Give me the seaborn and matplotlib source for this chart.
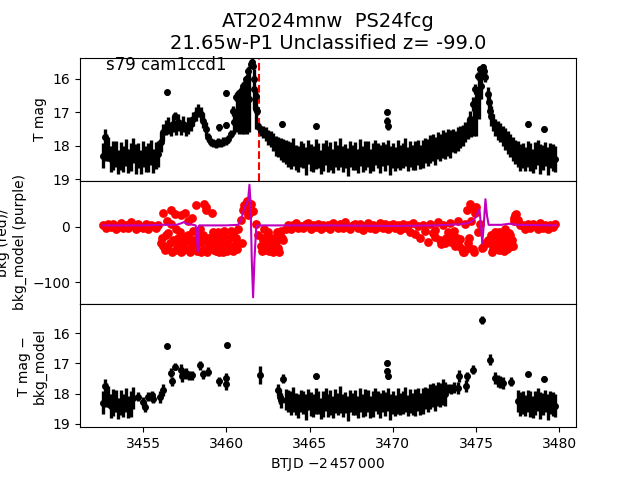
import pandas as pd
import seaborn as sns
import matplotlib
matplotlib.use('Agg')
import matplotlib.pyplot as plt

# T mag light curve (BTJD - 2457000), regular cadence part
top_t = [
    3452.60, 3452.75, 3452.90, 3453.05, 3453.20, 3453.35, 3453.50, 3453.65, 3453.80, 3453.95,
    3454.10, 3454.25, 3454.40, 3454.55, 3454.70, 3454.85, 3455.00, 3455.15, 3455.30, 3455.45,
    3455.60, 3455.75, 3455.90, 3456.05, 3456.20, 3456.35, 3456.50, 3456.65, 3456.80, 3456.95,
    3457.10, 3457.25, 3457.40, 3457.55, 3457.70, 3457.85, 3458.00, 3458.15, 3458.30, 3458.45,
    3458.60, 3458.75, 3458.90, 3459.05, 3459.20, 3459.35, 3459.50, 3459.65, 3459.80, 3459.95,
    3460.10, 3460.25, 3460.40, 3460.55, 3460.70, 3460.85, 3461.00, 3461.15, 3461.30, 3461.45,
    3461.60, 3461.75, 3461.90, 3462.05, 3462.20, 3462.35, 3462.50, 3462.65, 3462.80, 3462.95,
    3463.10, 3463.25, 3463.40, 3463.55, 3463.70, 3463.85, 3464.00, 3464.15, 3464.30, 3464.45,
    3464.60, 3464.75, 3464.90, 3465.05, 3465.20, 3465.35, 3465.50, 3465.65, 3465.80, 3465.95,
    3466.10, 3466.25, 3466.40, 3466.55, 3466.70, 3466.85, 3467.00, 3467.15, 3467.30, 3467.45,
    3467.60, 3467.75, 3467.90, 3468.05, 3468.20, 3468.35, 3468.50, 3468.65, 3468.80, 3468.95,
    3469.10, 3469.25, 3469.40, 3469.55, 3469.70, 3469.85, 3470.00, 3470.15, 3470.30, 3470.45,
    3470.60, 3470.75, 3470.90, 3471.05, 3471.20, 3471.35, 3471.50, 3471.65, 3471.80, 3471.95,
    3472.10, 3472.25, 3472.40, 3472.55, 3472.70, 3472.85, 3473.00, 3473.15, 3473.30, 3473.45,
    3473.60, 3473.75, 3473.90, 3474.05, 3474.20, 3474.35, 3474.50, 3474.65, 3474.80, 3474.95,
    3475.10, 3475.25, 3475.40, 3475.55, 3475.70, 3475.85, 3476.00, 3476.15, 3476.30, 3476.45,
    3476.60, 3476.75, 3476.90, 3477.05, 3477.20, 3477.35, 3477.50, 3477.65, 3477.80, 3477.95,
    3478.10, 3478.25, 3478.40, 3478.55, 3478.70, 3478.85, 3479.00, 3479.15, 3479.30, 3479.45,
    3479.60, 3479.75]
top_mag = [
    18.30, 18.05, 18.10, 18.40, 18.30, 18.25, 18.50, 18.30, 18.40, 18.20,
    18.45, 18.35, 18.15, 18.40, 18.30, 18.50, 18.25, 18.40, 18.35, 18.20,
    18.45, 18.30, 18.25, 17.90, 17.60, 17.45, 17.40, 17.50, 17.35, 17.45,
    17.30, 17.45, 17.35, 17.50, 17.40, 17.35, 17.20, 17.05, 16.95, 17.05,
    17.25, 17.50, 17.75, 17.88, 17.92, 17.95, 17.90, 17.93, 17.88, 17.85,
    17.80, 17.65, 16.95, 16.55, 16.45, 16.35, 16.20, 16.00, 15.75, 15.55,
    15.60, 16.50, 17.40, 17.55, 17.60, 17.65, 17.75, 17.80, 17.90, 18.00,
    18.05, 18.10, 18.15, 18.20, 18.25, 18.30, 18.20, 18.35, 18.40, 18.25,
    18.30, 18.45, 18.20, 18.35, 18.40, 18.25, 18.30, 18.50, 18.35, 18.20,
    18.40, 18.30, 18.45, 18.25, 18.35, 18.20, 18.40, 18.30, 18.50, 18.25,
    18.35, 18.30, 18.45, 18.20, 18.40, 18.30, 18.25, 18.45, 18.35, 18.20,
    18.30, 18.40, 18.25, 18.35, 18.20, 18.45, 18.30, 18.40, 18.25, 18.35,
    18.30, 18.20, 18.40, 18.25, 18.35, 18.30, 18.20, 18.35, 18.25, 18.15,
    18.20, 18.10, 18.05, 18.15, 18.00, 18.05, 17.95, 18.00, 17.90, 17.95,
    17.85, 17.90, 17.80, 17.75, 17.70, 17.60, 17.50, 17.20, 16.75, 16.30,
    15.90, 15.70, 15.65, 15.95, 16.45, 16.95, 17.30, 17.45, 17.55, 17.60,
    17.70, 17.80, 17.90, 18.00, 18.10, 18.20, 18.25, 18.35, 18.30, 18.40,
    18.25, 18.35, 18.45, 18.30, 18.20, 18.40, 18.35, 18.25, 18.45, 18.30,
    18.35, 18.40]
top_err = [
    0.38, 0.40, 0.36, 0.40, 0.44, 0.38, 0.36, 0.42, 0.38, 0.40,
    0.36, 0.42, 0.38, 0.44, 0.38, 0.36, 0.40, 0.38, 0.44, 0.38,
    0.36, 0.40, 0.38, 0.30, 0.25, 0.22, 0.25, 0.22, 0.25, 0.22,
    0.25, 0.22, 0.25, 0.22, 0.25, 0.22, 0.22, 0.22, 0.20, 0.20,
    0.22, 0.20, 0.13, 0.12, 0.13, 0.12, 0.13, 0.12, 0.13, 0.12,
    0.13, 0.12, 0.15, 0.12, 0.12, 0.12, 0.10, 0.10, 0.10, 0.08,
    0.08, 0.10, 0.12, 0.15, 0.18, 0.20, 0.22, 0.25, 0.27, 0.30,
    0.30, 0.32, 0.34, 0.36, 0.38, 0.40, 0.42, 0.38, 0.40, 0.38,
    0.38, 0.42, 0.36, 0.40, 0.38, 0.44, 0.38, 0.36, 0.42, 0.38,
    0.38, 0.42, 0.36, 0.40, 0.38, 0.44, 0.38, 0.36, 0.42, 0.38,
    0.38, 0.42, 0.36, 0.40, 0.38, 0.44, 0.38, 0.36, 0.42, 0.38,
    0.38, 0.42, 0.36, 0.40, 0.38, 0.44, 0.38, 0.36, 0.42, 0.38,
    0.38, 0.42, 0.36, 0.40, 0.38, 0.44, 0.38, 0.36, 0.42, 0.38,
    0.40, 0.42, 0.40, 0.42, 0.40, 0.40, 0.42, 0.40, 0.40, 0.42,
    0.35, 0.33, 0.35, 0.33, 0.32, 0.30, 0.30, 0.25, 0.20, 0.15,
    0.12, 0.10, 0.10, 0.15, 0.20, 0.25, 0.25, 0.25, 0.28, 0.28,
    0.30, 0.32, 0.34, 0.34, 0.36, 0.36, 0.38, 0.40, 0.38, 0.36,
    0.38, 0.42, 0.36, 0.40, 0.38, 0.44, 0.38, 0.36, 0.42, 0.38,
    0.40, 0.38]

# isolated points and the fill under the two flares
flare_t = [3452.70, 3456.45, 3456.90, 3459.55, 3460.00, 3460.00, 3460.48, 3460.63, 3460.78, 3460.93,
           3461.08, 3461.23, 3461.38, 3461.52, 3461.66, 3461.68, 3461.80, 3461.83, 3463.36, 3465.40,
           3469.62, 3469.66, 3469.70, 3474.72, 3474.88, 3475.02, 3475.18, 3475.32, 3475.48, 3475.78,
           3475.92, 3478.10, 3479.10]
flare_mag = [17.75, 16.40, 17.10, 17.45, 17.38, 16.42, 17.30, 17.10, 17.05, 16.95,
             16.85, 16.75, 16.60, 15.48, 16.30, 16.00, 16.90, 16.95, 17.35, 17.42,
             16.98, 17.25, 17.42, 17.45, 17.20, 17.00, 16.50, 16.20, 15.75, 16.70,
             17.10, 17.35, 17.50]
flare_err = [0.25, 0.08, 0.10, 0.10, 0.10, 0.08, 0.35, 0.50, 0.60, 0.70,
             0.80, 0.90, 1.00, 0.08, 0.60, 0.10, 0.60, 0.12, 0.08, 0.08,
             0.08, 0.10, 0.10, 0.28, 0.50, 0.70, 0.70, 0.40, 0.12, 0.25,
             0.30, 0.08, 0.08]

# background flux at top_t (red)
bkg = [
    2, -3, 4, -1, 5, -4, 1, 6, -2, 3,
    -3, 8, 2, -5, 4, 0, -2, 5, -4, 2,
    1, -3, 3, -30, 25, -38, -12, 30, -25, -5,
    -35, 20, -18, -40, 10, -28, -8, 38, -30, -15,
    -42, 35, -20, -38, -10, -30, -22, -40, -15, -35,
    -25, -40, -12, -30, -5, 12, 30, 35, 20, 40,
    28, 5, -15, -35, -20, -40, -10, -30, -42, -18,
    -38, -8, -25, -5, 3, -4, 2, 6, -3, 1,
    -2, 4, 7, -5, 2, -1, 5, -4, 3, 0,
    3, -4, 6, 1, -3, 5, -2, 8, 0, -5,
    2, 5, -3, 4, -6, 1, 6, -2, 3, -4,
    0, 7, -3, 4, -5, 2, 5, -2, 3, -6,
    4, -3, 2, -10, 6, -14, 1, -20, 3, -8,
    -28, 5, -12, -6, 8, -25, 2, -30, -10, 6,
    -15, -35, 10, -22, -45, 5, -30, 40, -40, 25,
    -10, 5, -36, -30, -25, -25, -40, -10, -35, -20,
    -38, -5, -30, -15, -35, 20, 12, 3, 2, -4,
    5, -3, 4, 1, -5, 6, -2, 3, -4, 2,
    -1, 4]
bkg_extra_t = [3456.12, 3456.28, 3456.42, 3456.58, 3456.72, 3456.88, 3457.02, 3457.18, 3457.32, 3457.48,
               3457.62, 3457.78, 3457.92, 3458.08, 3458.22, 3458.38, 3458.52, 3458.68, 3458.82, 3458.98,
               3459.12, 3459.28, 3459.42, 3459.58, 3459.72, 3459.88, 3460.02, 3460.18, 3460.32, 3460.62,
               3460.92, 3461.05, 3461.22, 3461.38, 3462.12, 3462.28, 3462.42, 3462.58, 3462.72, 3462.88,
               3463.02, 3463.18, 3463.32, 3472.50, 3472.90, 3473.20, 3473.50, 3473.70, 3474.00, 3474.30,
               3474.45, 3474.55, 3474.70, 3474.85, 3475.00, 3475.35, 3475.80, 3475.95, 3476.10, 3476.25,
               3476.40, 3476.55, 3476.70, 3476.85, 3477.00, 3477.10, 3477.25, 3477.40,
               3456.20, 3456.35, 3456.50, 3456.65, 3456.95, 3457.10, 3457.25, 3457.40, 3457.55, 3457.70,
               3457.85, 3458.00, 3458.15, 3458.30, 3458.45, 3458.60, 3458.75, 3458.90, 3459.05, 3459.20,
               3459.35, 3459.50, 3459.65, 3459.80, 3459.95, 3460.10, 3460.25, 3460.40, 3460.55, 3462.20,
               3462.35, 3462.50, 3462.65, 3462.80, 3462.95, 3463.10, 3473.85, 3474.15, 3474.60, 3474.75,
               3475.90, 3476.05, 3476.20, 3476.35, 3476.50, 3476.65, 3476.80, 3476.95, 3477.15, 3477.30]
bkg_extra = [-20, -42, 10, -30, -45, 22, -38, -10, -44, 25,
             -25, -46, 15, -36, -44, -5, -28, 40, -45, -30,
             25, -42, -18, -45, -28, -8, -44, -20, -36, -40,
             -30, 38, 45, 25, -44, -5, -30, -44, -22, -38,
             -10, -45, -20, -18, -32, -20, -28, -8, -35, -45,
             30, -20, 10, -46, 35, -38, -30, -45, -20, -38,
             -10, -42, -25, -40, -12, -35, 15, 22,
             -35, -15, -40, 5, -42, -20, -45, -30, -40, -15,
             -40, -25, -40, -20, -46, -15, 30, -38, -20, -35,
             -44, -10, -38, -45, -25, -40, -8, -44, -20, -25,
             -42, -15, -36, -46, -28, -20, -20, -40, -38, 35,
             -15, -40, -28, -42, -30, -44, -15, -36, -25, 10]

# background model (purple)
model_t = [3452.6, 3455.0, 3456.0, 3457.0, 3457.3, 3457.45, 3457.6, 3458.0, 3458.15, 3458.22,
           3458.28, 3458.36, 3459.0, 3460.0, 3460.7, 3460.85, 3461.0, 3461.1, 3461.2, 3461.3,
           3461.38, 3461.45, 3461.52, 3461.6, 3461.68, 3461.78, 3461.85, 3463.0, 3466.0, 3470.0,
           3472.5, 3474.0, 3474.5, 3474.8, 3475.0, 3475.2, 3475.28, 3475.37, 3475.45, 3475.56,
           3475.65, 3475.75, 3476.5, 3477.0, 3477.5, 3479.8]
model_val = [2, 2, 3, 3, 6, 8, 5, 3, 2, -20,
             -45, 2, 2, 2, 3, 10, 25, 35, 40, 48,
             75, 40, -60, -127, -60, -5, 2, 2, 2, 1,
             2, 4, 6, 10, 18, 31, 5, -30, 0, 49,
             20, 3, 3, 5, 3, 2]

# T mag - bkg_model where the background is not flat
bot_t = [3454.70, 3455.00, 3455.10, 3455.30, 3455.50, 3455.60, 3456.00, 3456.20, 3456.45, 3456.64,
         3456.74, 3456.90, 3457.24, 3457.30, 3457.56, 3457.76, 3457.90, 3458.40, 3458.60, 3458.90,
         3459.56, 3459.96, 3460.00, 3460.04, 3462.00, 3463.10, 3463.24, 3463.30, 3463.40, 3473.30,
         3473.50, 3473.70, 3473.90, 3474.00, 3474.40, 3474.45, 3474.84, 3475.36, 3475.86, 3476.16,
         3476.30, 3476.44, 3476.64, 3477.10]
bot_mag = [18.11, 18.28, 18.45, 18.11, 18.06, 18.17, 18.13, 17.89, 16.42, 17.31,
           17.59, 17.11, 17.22, 17.42, 17.33, 17.39, 17.39, 17.06, 17.36, 17.28,
           17.59, 17.47, 17.69, 16.39, 17.39, 17.87, 18.11, 18.22, 17.50, 17.83,
           17.85, 17.80, 17.83, 17.42, 17.76, 17.42, 17.20, 15.55, 16.87, 17.47,
           17.58, 17.61, 17.64, 17.60]
bot_err = [0.15, 0.18, 0.18, 0.15, 0.15, 0.15, 0.20, 0.20, 0.08, 0.15,
           0.15, 0.12, 0.20, 0.18, 0.18, 0.15, 0.15, 0.15, 0.15, 0.15,
           0.15, 0.15, 0.18, 0.08, 0.30, 0.20, 0.25, 0.25, 0.15, 0.15,
           0.18, 0.18, 0.20, 0.20, 0.20, 0.15, 0.15, 0.12, 0.18, 0.20,
           0.20, 0.20, 0.20, 0.15]

flag_t = 3461.94

# Build tables
top = pd.DataFrame({'t': top_t + flare_t,
                    'mag': top_mag + flare_mag,
                    'err': top_err + flare_err})
bg = pd.DataFrame({'t': top_t + bkg_extra_t, 'bkg': bkg + bkg_extra})
quiet = (top.t <= 3454.45) | ((top.t >= 3463.5) & (top.t <= 3473.2)) | (top.t >= 3477.4)
bot = pd.concat([top[quiet],
                 pd.DataFrame({'t': bot_t, 'mag': bot_mag, 'err': bot_err})])

fig, (ax1, ax2, ax3) = plt.subplots(3, 1, sharex=True, figsize=(6.4, 4.8), dpi=100)
fig.subplots_adjust(hspace=0)

# Top panel
ax1.errorbar(top.t, top.mag, yerr=top.err, fmt='o', color='k', ms=4, elinewidth=2.4)
ax1.axvline(flag_t, color='r', ls='--', lw=1.5)
ax1.set_ylim(19.05, 15.36)
ax1.set_yticks([16, 17, 18, 19])
ax1.set_ylabel('T mag')
ax1.text(0.052, 0.9, 's79 cam1ccd1', transform=ax1.transAxes, fontsize=12)
ax1.set_title('AT2024mnw  PS24fcg\n21.65w-P1 Unclassified z= -99.0', fontsize=14)

# Middle panel
sns.scatterplot(data=bg, x='t', y='bkg', color='r', s=40, linewidth=0, legend=False, ax=ax2)
sns.lineplot(x=model_t, y=model_val, color='m', lw=1.5, ax=ax2)
ax2.set_ylim(-139, 82)
ax2.set_yticks([-100, 0])
ax2.set_ylabel('bkg (red)/\nbkg_model (purple)')

# Bottom panel
ax3.errorbar(bot.t, bot.mag, yerr=bot.err, fmt='o', color='k', ms=4, elinewidth=2.4)
ax3.set_ylim(19.12, 15.02)
ax3.set_yticks([16, 17, 18, 19])
ax3.set_ylabel('T mag \u2212\nbkg_model')
ax3.set_xlim(3451.2, 3481.0)
ax3.set_xlabel(r'BTJD $-2\,457\,000$')

fig.savefig('out.png', dpi=100)
